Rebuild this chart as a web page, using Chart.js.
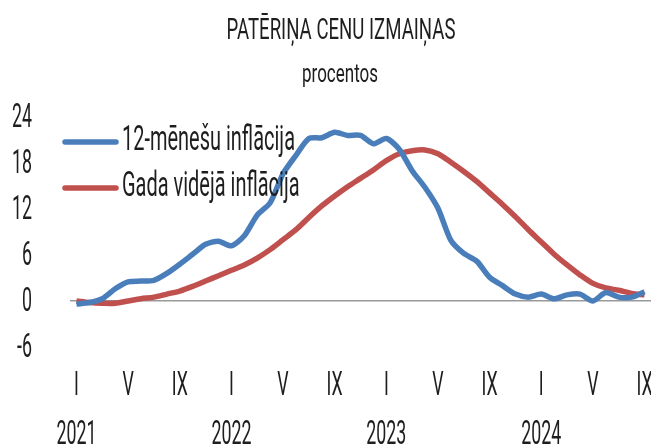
<!DOCTYPE html>
<html>
<head>
<meta charset="utf-8">
<script src="https://cdn.jsdelivr.net/npm/chart.js@4.4.1/dist/chart.umd.min.js"></script>
<style>
  html, body { margin: 0; padding: 0; background: #fff; }
  #wrap { width: 651px; height: 447px; }
</style>
</head>
<body>
<div id="wrap"><canvas id="inflChart" width="651" height="447"></canvas></div>
<script>
var chartTitle = 'PATĒRIŅA CENU IZMAIŅAS';
var chartSubtitle = 'procentos';
var monthNames = ['I', 'II', 'III', 'IV', 'V', 'VI', 'VII', 'VIII', 'IX', 'X', 'XI', 'XII'];
var years = ['2021', '2022', '2023', '2024'];
var seriesNames = ['12-mēnešu inflācija', 'Gada vidējā inflācija'];

// Jan 2021 .. Sep 2024, monthly
var inflation12 = [
  -0.4, -0.2, 0.3, 1.6, 2.5, 2.6, 2.7, 3.6, 4.8, 6.1, 7.4, 7.8,
  7.2, 8.5, 11.2, 12.8, 16.6, 19.0, 21.2, 21.3, 22.0, 21.6, 21.6, 20.5,
  21.2, 19.8, 17.0, 14.8, 12.1, 7.9, 6.2, 5.2, 3.1, 2.0, 0.9, 0.5,
  0.9, 0.3, 0.8, 0.9, 0.0, 1.1, 0.5, 0.5, 1.2
];
var inflationAvg = [
  0.0, -0.2, -0.3, -0.3, 0.0, 0.3, 0.5, 0.9, 1.3, 1.9, 2.6, 3.3,
  4.0, 4.7, 5.6, 6.7, 8.0, 9.3, 10.9, 12.4, 13.7, 14.9, 16.0, 17.1,
  18.3, 19.2, 19.6, 19.7, 19.2, 18.1, 16.9, 15.6, 14.1, 12.6, 11.0, 9.3,
  7.7, 6.1, 4.7, 3.4, 2.3, 1.7, 1.4, 1.0, 0.8
];
var yTicks = [-6, 0, 6, 12, 18, 24];

var labels = [];
for (var i = 0; i < inflation12.length; i++) {
  var m = monthNames[i % 12];
  labels.push(i % 12 === 0 ? [m, years[Math.floor(i / 12)]] : m);
}

var fam = "Roboto, 'Liberation Sans', sans-serif";
var textColor = '#1e1e1e';

// draw text squeezed horizontally (the original uses a condensed face)
function squeezed(ctx, text, x, y, font, sx, align) {
  ctx.save();
  ctx.font = font;
  ctx.textAlign = align;
  ctx.textBaseline = 'middle';
  ctx.fillStyle = textColor;
  ctx.translate(x, y);
  ctx.scale(sx, 1);
  ctx.fillText(text, 0, 0);
  ctx.restore();
}
function fitScale(ctx, text, font, width) {
  ctx.save();
  ctx.font = font;
  var w = ctx.measureText(text).width;
  ctx.restore();
  return width / w;
}

var textPlugin = {
  id: 'texts',
  afterDraw: function(chart) {
    var ctx = chart.ctx;
    var xs = chart.scales.x, ys = chart.scales.y;

    var titleFont = '400 29px ' + fam;
    squeezed(ctx, chartTitle, 341, 32, titleFont, fitScale(ctx, chartTitle, titleFont, 229), 'center');
    var subFont = '400 25px ' + fam;
    squeezed(ctx, chartSubtitle, 340, 76, subFont, fitScale(ctx, chartSubtitle, subFont, 76), 'center');

    // axis labels
    var tickFont = '400 34px ' + fam;
    var tsx = fitScale(ctx, years[0], tickFont, 40);
    yTicks.forEach(function(v) {
      squeezed(ctx, String(v), 32, ys.getPixelForValue(v) + 1, tickFont, tsx, 'right');
    });
    chart.data.labels.forEach(function(lab, idx) {
      if (idx % 4 !== 0) return;
      var x = xs.getPixelForValue(idx);
      var parts = Array.isArray(lab) ? lab : [lab];
      squeezed(ctx, parts[0], x, 386, tickFont, tsx, 'center');
      if (parts[1]) squeezed(ctx, parts[1], x, 435, tickFont, tsx, 'center');
    });

    // legend
    var legFont = '400 35px ' + fam;
    var lsx = fitScale(ctx, seriesNames[0], legFont, 173);
    chart.data.datasets.forEach(function(ds, i) {
      var y = 142 + i * 46;
      ctx.save();
      ctx.beginPath();
      ctx.strokeStyle = ds.borderColor;
      ctx.lineWidth = 5.5;
      ctx.lineCap = 'round';
      ctx.moveTo(65, y);
      ctx.lineTo(116, y);
      ctx.stroke();
      ctx.restore();
      squeezed(ctx, ds.label, 122, y - 1, legFont, lsx, 'left');
    });
  }
};

var ctx = document.getElementById('inflChart').getContext('2d');
var myChart = new Chart(ctx, {
  type: 'line',
  data: {
    labels: labels,
    datasets: [{
      label: seriesNames[0],
      data: inflation12,
      borderColor: '#4a7ebb',
      borderWidth: 5.5,
      pointRadius: 0,
      tension: 0.25
    }, {
      label: seriesNames[1],
      data: inflationAvg,
      borderColor: '#c0504d',
      borderWidth: 5.5,
      pointRadius: 0,
      tension: 0.3
    }]
  },
  options: {
    responsive: false,
    animation: false,
    layout: { padding: { top: 117, left: 0, right: 0, bottom: 0 } },
    plugins: {
      legend: { display: false },
      tooltip: { enabled: false }
    },
    scales: {
      x: {
        offset: true,
        border: { display: false },
        grid: { display: false, drawTicks: false },
        ticks: { display: false },
        afterFit: function(scale) {
          scale.height = 100;
          scale.paddingLeft = 0;
          scale.paddingRight = 0;
        }
      },
      y: {
        min: yTicks[0],
        max: yTicks[yTicks.length - 1],
        border: { display: false },
        grid: {
          drawTicks: false,
          lineWidth: 1.5,
          color: function(c) { return c.tick && c.tick.value === 0 ? '#9a9a9a' : 'rgba(0,0,0,0)'; }
        },
        ticks: { display: false, stepSize: 6 },
        afterFit: function(scale) {
          scale.width = 70;
          scale.paddingTop = 0;
          scale.paddingBottom = 0;
        }
      }
    }
  },
  plugins: [textPlugin]
});
</script>
</body>
</html>
